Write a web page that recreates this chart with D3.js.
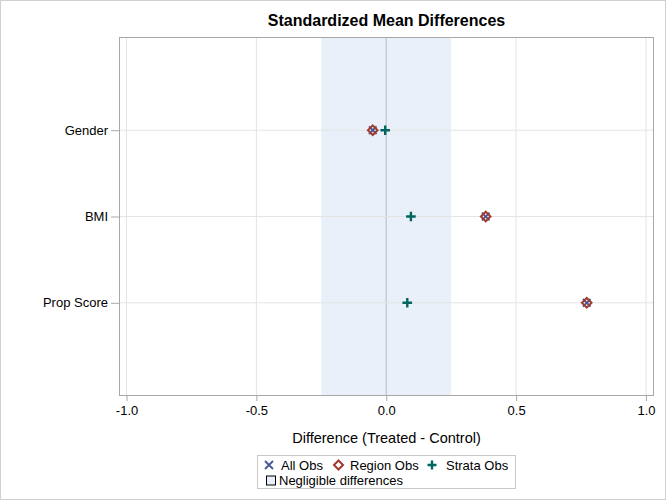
<!DOCTYPE html>
<html>
<head>
<meta charset="utf-8">
<script src="https://cdn.jsdelivr.net/npm/d3@7"></script>
<style>
  html, body { margin: 0; padding: 0; background: #fff; }
  svg { display: block; font-family: "Liberation Sans", Arial, sans-serif; }
</style>
</head>
<body>
<div id="chart"></div>
<script>
// data
var variables = ['Gender', 'BMI', 'Prop Score'];
var allObs = [-0.052, 0.383, 0.772];
var regionObs = [-0.052, 0.383, 0.772];
var strataObs = [-0.004, 0.095, 0.081];
var xTicks = [-1.0, -0.5, 0.0, 0.5, 1.0];
var negligible = [-0.25, 0.25];

var width = 666, height = 500;
var frame = {left: 119, right: 654, top: 37, bottom: 396};

var svg = d3.select('#chart').append('svg')
    .attr('width', width)
    .attr('height', height);

// outer border
svg.append('rect')
    .attr('x', 0.5).attr('y', 0.5)
    .attr('width', width - 1).attr('height', height - 1)
    .attr('fill', 'none').attr('stroke', '#d0d0d0');

var x = d3.scaleLinear()
    .domain([-1.029, 1.031])
    .range([frame.left, frame.right]);

var y = d3.scalePoint()
    .domain(variables)
    .range([frame.top, frame.bottom])
    .padding(1.08);

// negligible band
svg.append('rect')
    .attr('x', x(negligible[0]))
    .attr('y', frame.top)
    .attr('width', x(negligible[1]) - x(negligible[0]))
    .attr('height', frame.bottom - frame.top)
    .attr('fill', '#e9f0f9');

// grid lines
svg.append('g').selectAll('line')
    .data(xTicks)
    .enter().append('line')
    .attr('x1', d => x(d)).attr('x2', d => x(d))
    .attr('y1', frame.top).attr('y2', frame.bottom)
    .attr('stroke', d => d === 0 ? '#c4c8cc' : '#e4e4e4')
    .attr('stroke-width', d => d === 0 ? 1.3 : 1);

svg.append('g').selectAll('line')
    .data(variables)
    .enter().append('line')
    .attr('x1', frame.left).attr('x2', frame.right)
    .attr('y1', d => y(d)).attr('y2', d => y(d))
    .attr('stroke', '#e4e4e4');

// frame
svg.append('rect')
    .attr('x', frame.left + 0.5).attr('y', frame.top + 0.5)
    .attr('width', frame.right - frame.left - 1)
    .attr('height', frame.bottom - frame.top - 1)
    .attr('fill', 'none').attr('stroke', '#a8a8a8');

// axes
var xAxis = svg.append('g')
    .attr('transform', 'translate(0,' + frame.bottom + ')')
    .call(d3.axisBottom(x).tickValues(xTicks).tickSize(5).tickPadding(5));
xAxis.select('.domain').remove();
xAxis.selectAll('line').attr('stroke', '#a8a8a8');
xAxis.selectAll('text').attr('font-size', 13).attr('fill', '#000')
    .attr('font-family', '"Liberation Sans", Arial, sans-serif')
    .text(d => d3.format('.1f')(d).replace('−', '-'));

var yAxis = svg.append('g')
    .attr('transform', 'translate(' + frame.left + ',0)')
    .call(d3.axisLeft(y).tickSize(8).tickPadding(3));
yAxis.select('.domain').remove();
yAxis.selectAll('line').attr('stroke', '#a8a8a8');
yAxis.selectAll('text').attr('font-size', 13).attr('fill', '#000')
    .attr('font-family', '"Liberation Sans", Arial, sans-serif');

// titles
svg.append('text')
    .attr('x', (frame.left + frame.right) / 2).attr('y', 25.5)
    .attr('text-anchor', 'middle')
    .attr('font-size', 16).attr('font-weight', 'bold')
    .text('Standardized Mean Differences');

svg.append('text')
    .attr('x', (frame.left + frame.right) / 2).attr('y', 443)
    .attr('text-anchor', 'middle')
    .attr('font-size', 14.5)
    .text('Difference (Treated - Control)');

// markers
var colX = '#445694', colD = '#a23a2e', colP = '#01665e';

function xMark(g, s, c) {
    g.append('path').attr('d', 'M' + -s + ',' + -s + 'L' + s + ',' + s + 'M' + -s + ',' + s + 'L' + s + ',' + -s)
        .attr('stroke', c).attr('stroke-width', 1.8).attr('fill', 'none');
}
function dMark(g, s, c) {
    g.append('path').attr('d', 'M0,' + -s + 'L' + s + ',0L0,' + s + 'L' + -s + ',0Z')
        .attr('stroke', c).attr('stroke-width', 2).attr('fill', 'none');
}
function pMark(g, s, c) {
    g.append('path').attr('d', 'M' + -s + ',0L' + s + ',0M0,' + -s + 'L0,' + s)
        .attr('stroke', c).attr('stroke-width', 2.4).attr('fill', 'none');
}

var pts = svg.append('g');
variables.forEach(function (v, i) {
    xMark(pts.append('g').attr('transform', 'translate(' + x(allObs[i]) + ',' + y(v) + ')'), 3.8, colX);
    dMark(pts.append('g').attr('transform', 'translate(' + x(regionObs[i]) + ',' + y(v) + ')'), 4.8, colD);
    pMark(pts.append('g').attr('transform', 'translate(' + x(strataObs[i]) + ',' + y(v) + ')'), 4.8, colP);
});

// legend
var lg = svg.append('g');
lg.append('rect')
    .attr('x', 257.5).attr('y', 455.5).attr('width', 258).attr('height', 33)
    .attr('fill', 'none').attr('stroke', '#c8c8c8');

var row1 = 465, row2 = 480.5;
xMark(lg.append('g').attr('transform', 'translate(269,' + row1 + ')'), 4, colX);
lg.append('text').attr('x', 281).attr('y', row1 + 4.5).attr('font-size', 13).text('All Obs');
dMark(lg.append('g').attr('transform', 'translate(338.5,' + row1 + ')'), 4.5, colD);
lg.append('text').attr('x', 350).attr('y', row1 + 4.5).attr('font-size', 13).text('Region Obs');
pMark(lg.append('g').attr('transform', 'translate(432,' + row1 + ')'), 4.5, colP);
lg.append('text').attr('x', 446).attr('y', row1 + 4.5).attr('font-size', 13).text('Strata Obs');

lg.append('rect')
    .attr('x', 266.5).attr('y', row2 - 4.5).attr('width', 9).attr('height', 9)
    .attr('fill', '#e9f0f9').attr('stroke', '#000');
lg.append('text').attr('x', 279).attr('y', row2 + 4.5).attr('font-size', 13).text('Negligible differences');
</script>
</body>
</html>
